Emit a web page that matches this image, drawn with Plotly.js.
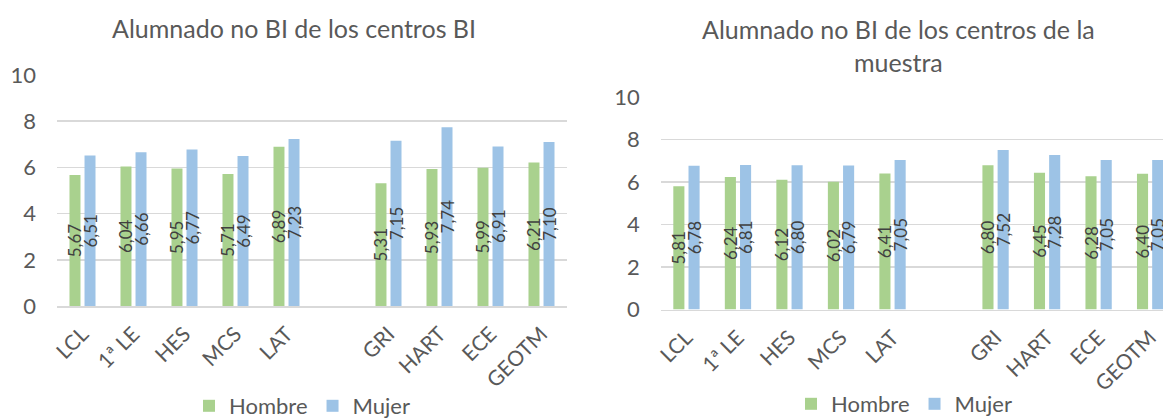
<!DOCTYPE html>
<html><head><meta charset="utf-8">
<script src="https://cdn.plot.ly/plotly-3.0.1.min.js"></script>
<style>html,body{margin:0;padding:0;overflow:hidden;background:#fff;width:1163px;height:419px}#chart{width:1163px;height:440px}</style>
</head><body><div id="chart"></div>
<script>
const categories = ["LCL", "1ª LE", "HES", "MCS", "LAT", " ", "GRI", "HART", "ECE", "GEOTM"];
const leftHombre = [5.67, 6.04, 5.95, 5.71, 6.89, null, 5.31, 5.93, 5.99, 6.21];
const leftMujer  = [6.51, 6.66, 6.77, 6.49, 7.23, null, 7.15, 7.74, 6.91, 7.10];
const rightHombre = [5.81, 6.24, 6.12, 6.02, 6.41, null, 6.80, 6.45, 6.28, 6.40];
const rightMujer  = [6.78, 6.81, 6.80, 6.79, 7.05, null, 7.52, 7.28, 7.05, 7.05];
const titleLeft = "Alumnado no BI de los centros BI";
const titleRight = "Alumnado no BI de los centros de la<br>muestra";
const yTicks = [0, 2, 4, 6, 8, 10];

const GREEN = "#A9D18E", BLUE = "#9DC3E6";
const FONT = "Lato, 'Liberation Sans', sans-serif";
const TXT = "#595959";

function bar(name, y, color, xa, ya, legend, show) {
  return {
    type: "bar", name: name, x: categories, y: y, xaxis: xa, yaxis: ya,
    marker: {color: color}, legend: legend, showlegend: show,
    texttemplate: "%{y:.2f}", textposition: "inside", insidetextanchor: "middle",
    textangle: -90, constraintext: "none",
    insidetextfont: {family: FONT, size: 17, color: "#404040"},
    cliponaxis: true, hoverinfo: "x+y"
  };
}

const data = [
  bar("Hombre", leftHombre, GREEN, "x", "y", "legend", true),
  bar("Mujer", leftMujer, BLUE, "x", "y", "legend", true),
  bar("Hombre", rightHombre, GREEN, "x2", "y2", "legend2", true),
  bar("Mujer", rightMujer, BLUE, "x2", "y2", "legend2", true)
];

const W = 1163, H = 440;
function yax(domain, anchor) {
  return {
    domain: domain, range: [0, 10], tickvals: yTicks, fixedrange: true, anchor: anchor,
    showgrid: true, gridcolor: "#D9D9D9", gridwidth: 1.5,
    zeroline: false, showline: false, ticks: "", ticklabelstandoff: 20,
    tickfont: {family: FONT, size: 22, color: TXT}, automargin: false
  };
}
function xax(domain, range, anchor) {
  return {
    domain: domain, range: range, type: "category", anchor: anchor,
    showgrid: false, zeroline: false, showline: true, linecolor: "#D9D9D9", linewidth: 1.5,
    ticks: "", tickangle: -45, ticklabelstandoff: 6,
    tickfont: {family: FONT, size: 21, color: TXT}, automargin: false, fixedrange: true
  };
}

const layout = {
  width: W, height: H, margin: {l: 0, r: 0, t: 0, b: 0, autoexpand: false},
  paper_bgcolor: "#fff", plot_bgcolor: "#fff",
  barmode: "group", bargap: 0.41, bargroupgap: 0.27,
  separators: ",.",
  font: {family: FONT, color: TXT},
  xaxis: xax([57 / W, 567 / W], [-0.5, 9.5], "y"),
  yaxis: yax([(H - 306) / H, (H - 75) / H], "x"),
  xaxis2: xax([660.7 / W, 1], [-0.5, 9.25], "y2"),
  yaxis2: yax([(H - 309.5) / H, (H - 97.3) / H], "x2"),
  legend: {orientation: "h", x: 302 / W, xanchor: "center", y: (H - 406) / H, yanchor: "middle",
           font: {family: FONT, size: 22, color: TXT}, itemwidth: 30, bgcolor: "rgba(0,0,0,0)"},
  legend2: {orientation: "h", x: 904 / W, xanchor: "center", y: (H - 404) / H, yanchor: "middle",
           font: {family: FONT, size: 22, color: TXT}, itemwidth: 30, bgcolor: "rgba(0,0,0,0)"},
  annotations: [
    {text: titleLeft, xref: "paper", yref: "paper", x: 294 / W, y: (H - 28) / H,
     xanchor: "center", yanchor: "middle", showarrow: false,
     font: {family: FONT, size: 25, color: TXT}},
    {text: titleRight, xref: "paper", yref: "paper", x: 898 / W, y: (H - 45) / H,
     xanchor: "center", yanchor: "middle", showarrow: false,
     font: {family: FONT, size: 25, color: TXT}}
  ]
};

Plotly.newPlot("chart", data, layout, {displayModeBar: false, staticPlot: true});
</script></body></html>
